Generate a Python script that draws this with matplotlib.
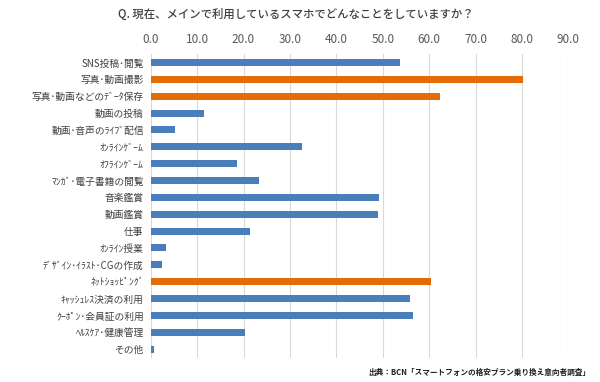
import matplotlib
matplotlib.use("Agg")
import matplotlib.pyplot as plt

plt.rcParams['font.family'] = ['Noto Sans CJK JP', 'DejaVu Sans']

categories = [
    "SNS投稿･閲覧",
    "写真･動画撮影",
    "写真･動画などのﾃﾞｰﾀ保存",
    "動画の投稿",
    "動画･音声のﾗｲﾌﾞ配信",
    "ｵﾝﾗｲﾝｹﾞｰﾑ",
    "ｵﾌﾗｲﾝｹﾞｰﾑ",
    "ﾏﾝｶﾞ･電子書籍の閲覧",
    "音楽鑑賞",
    "動画鑑賞",
    "仕事",
    "ｵﾝﾗｲﾝ授業",
    "ﾃﾞｻﾞｲﾝ･ｲﾗｽﾄ･CGの作成",
    "ﾈｯﾄｼｮｯﾋﾟﾝｸﾞ",
    "ｷｬｯｼｭﾚｽ決済の利用",
    "ｸｰﾎﾟﾝ･会員証の利用",
    "ﾍﾙｽｹｱ･健康管理",
    "その他",
]
values = [53.7, 80.3, 62.3, 11.5, 5.2, 32.6, 18.5, 23.3, 49.3, 48.9,
          21.5, 3.3, 2.5, 60.3, 55.9, 56.6, 20.3, 0.8]
highlight = [False, True, True, False, False, False, False, False, False, False,
             False, False, False, True, False, False, False, False]
xticks = [0, 10, 20, 30, 40, 50, 60, 70, 80, 90]

title = "Q. 現在、メインで利用しているスマホでどんなことをしていますか？"
source = "出典：BCN「スマートフォンの格安プラン乗り換え意向者調査」"

blue = "#4a7ebb"
orange = "#e36c09"
colors = [orange if h else blue for h in highlight]

fig = plt.figure(figsize=(6.0, 3.82), dpi=100)
ax = fig.add_axes([0.2512, 0.064, 0.696, 0.7945])

ypos = list(range(len(categories)))
ax.barh(ypos, values, height=0.42, color=colors, zorder=3)
ax.set_ylim(len(categories) - 0.5, -0.5)
ax.set_xlim(0, 90)
ax.set_yticks(ypos)
ax.set_yticklabels(categories, fontsize=7, color="#404040")
ax.set_xticks(xticks)
ax.set_xticklabels([f"{t:.1f}" for t in xticks], fontsize=8.5, color="#595959")
ax.xaxis.tick_top()
ax.tick_params(axis='both', length=0, pad=6)
ax.tick_params(axis='y', pad=5)
ax.grid(axis='x', color="#d9d9d9", linewidth=0.8, zorder=0)
for s in ax.spines.values():
    s.set_visible(False)
ax.axvline(0, color="#d9d9d9", linewidth=0.8, zorder=1)

fig.text(0.493, 0.963, title, ha='center', va='center', fontsize=8.2,
         fontweight='medium', color="#404040")
fig.text(0.983, 0.025, source, ha='right', va='center', fontsize=5.5,
         fontweight='bold', color="#202020")

fig.savefig("out.png", dpi=100, facecolor="white")
